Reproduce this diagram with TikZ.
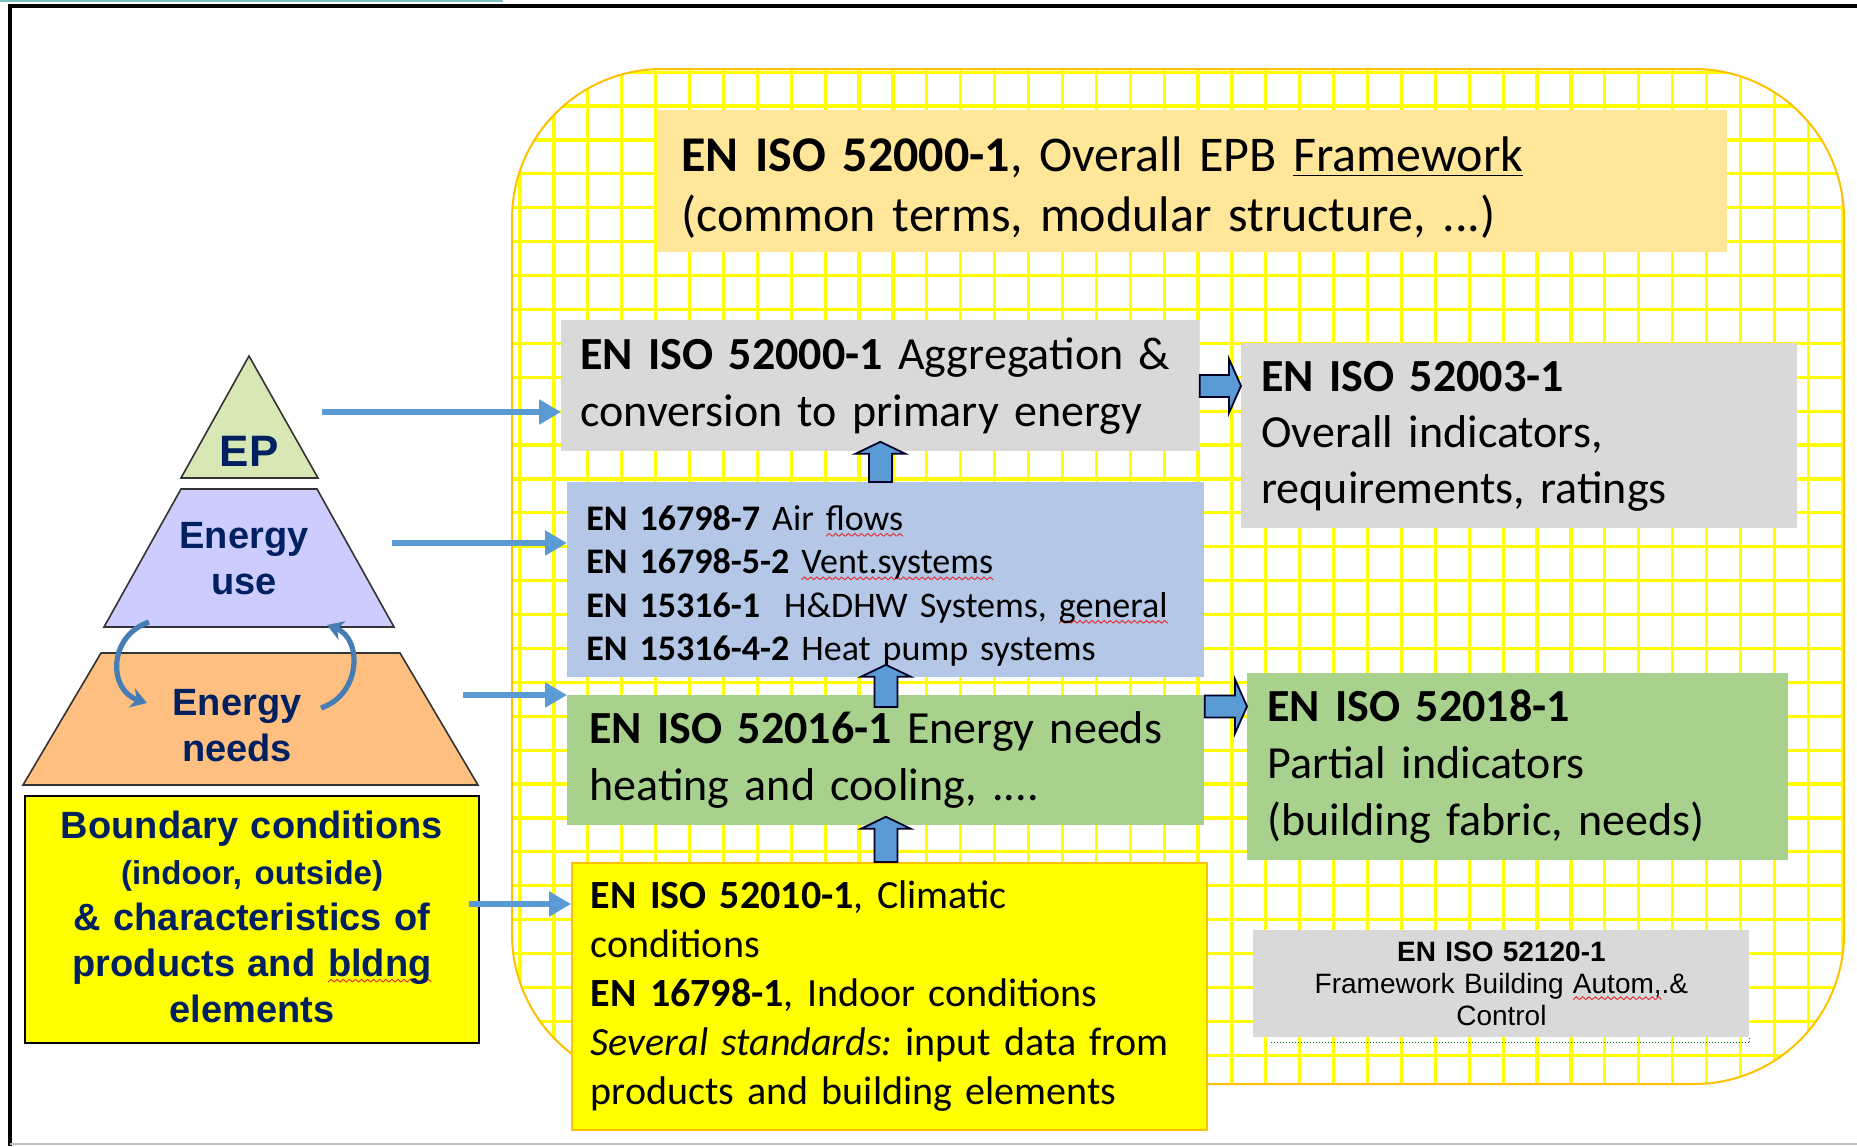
\documentclass[tikz,border=0pt]{standalone}
\usepackage{fontspec}
\setmainfont{Carlito}
\newfontfamily\arialfont{Liberation Sans}
\usetikzlibrary{calc, arrows.meta}
\frenchspacing

\definecolor{gridyellow}{RGB}{255,255,0}
\definecolor{gridedge}{RGB}{255,192,0}
\definecolor{fwbeige}{RGB}{255,230,153}
\definecolor{boxgray}{RGB}{217,217,217}
\definecolor{sysblue}{RGB}{180,199,231}
\definecolor{needgreen}{RGB}{169,209,142}
\definecolor{arrowblue}{RGB}{91,155,213}
\definecolor{curveblue}{RGB}{70,125,180}
\definecolor{navy}{RGB}{0,32,96}
\definecolor{epgreen}{RGB}{215,232,180}
\definecolor{uselav}{RGB}{204,204,255}
\definecolor{needorange}{RGB}{255,191,128}
\definecolor{spellred}{RGB}{230,40,40}

% red wavy spell-check underline
\newsavebox{\spellbox}
\newcommand{\spell}[1]{\sbox{\spellbox}{#1}\rlap{\lower3pt\hbox to \wd\spellbox{%
  \xleaders\hbox{\tikz[baseline]{%
    \path[use as bounding box] (0pt,0pt) rectangle (3pt,1.5pt);
    \draw[spellred, line width=0.45pt] (0pt,0pt) -- (1.5pt,1.4pt) -- (3pt,0pt);}}\hfill}}%
  \usebox{\spellbox}}

% block arrows between boxes
\newcommand{\blockup}[2]{%
  \draw[blockarr] let \p1=(#1), \p2=(#2) in
    (\x2-5.75pt,\y1) -- (\x2-5.75pt,\y2-6pt) -- (\x2-12.5pt,\y2-6pt) -- (\x2,\y2)
    -- (\x2+12.5pt,\y2-6pt) -- (\x2+5.75pt,\y2-6pt) -- (\x2+5.75pt,\y1) -- cycle;}
\newcommand{\blockright}[2]{%
  \draw[blockarr] let \p1=(#1), \p2=(#2) in
    (\x1,\y2-5.5pt) -- (\x2-6pt,\y2-5.5pt) -- (\x2-6pt,\y2-13.5pt) -- (\x2,\y2)
    -- (\x2-6pt,\y2+13.5pt) -- (\x2-6pt,\y2+5.5pt) -- (\x1,\y2+5.5pt) -- cycle;}

\begin{document}
\begin{tikzpicture}[x=0.5pt, y=-0.5pt,
  stdbox/.style={anchor=north west, align=left, inner ysep=0pt},
  bigtext/.style={font=\fontsize{23}{28.5}\selectfont},
  gridline/.style={gridyellow, line width=1.6pt},
  thinarr/.style={arrowblue, line width=3pt, -{Triangle[length=11pt,width=12pt]}},
  curvearr/.style={curveblue, line width=2.6pt, -{Stealth[length=8pt,width=10pt]}},
  blockarr/.style={fill=arrowblue, draw=black!85!blue, line width=0.9pt, line join=miter},
  pyr/.style={draw=black!80, line width=0.8pt},
  pyrlabel/.style={text=navy, align=center, inner sep=0pt,
    font=\arialfont\bfseries\fontsize{19}{23}\selectfont}]

  \useasboundingbox (0,0) rectangle (1857,1146);

  % page frame
  \draw[teal!50, line width=0.6pt] (0,1) -- (503,1);
  \draw[line width=2.4pt] (10,1146) -- (10,6) -- (1857,6);
  \draw[black!25, line width=1pt] (10,1144) -- (1857,1144);

  % gridded EPB area
  \begin{scope}
    \clip[rounded corners=75pt] (512,69) rectangle (1844,1084);
    \foreach \gx in {0,...,39}
      \draw[gridline] ({520+33.9*\gx},60) -- ({520+33.9*\gx},1090);
    \foreach \gy in {-1,...,29}
      \draw[gridline] (505,{106+33.9*\gy}) -- (1850,{106+33.9*\gy});
  \end{scope}
  \draw[gridedge, line width=1pt, rounded corners=75pt] (512,69) rectangle (1844,1084);

  % standards boxes
  \node[stdbox, fill=fwbeige, minimum width=535pt, minimum height=71pt,
        text width=511pt, inner xsep=12pt, font=\fontsize{25}{30}\selectfont] (fw) at (657,110)
    {\rule{0pt}{24pt}\textbf{EN ISO 52000-1}, Overall EPB \underline{Framework}\\(common terms, modular structure, ...)};
  \node[stdbox, bigtext, fill=boxgray, minimum width=319pt, minimum height=65.5pt,
        text width=300pt, inner xsep=9.5pt] (agg) at (561,320)
    {\textbf{EN ISO 52000-1} Aggregation \&\\conversion to primary energy};
  \node[stdbox, fill=boxgray, minimum width=278pt, minimum height=92.5pt,
        text width=258pt, inner xsep=10pt, font=\fontsize{23}{28}\selectfont] (ovr) at (1241,343)
    {\textbf{EN ISO 52003-1}\\Overall indicators,\\requirements, ratings};
  \node[stdbox, fill=sysblue, minimum width=318.5pt, minimum height=97.5pt,
        text width=299.5pt, inner xsep=9.5pt, font=\fontsize{18}{21.75}\selectfont] (sys) at (567,482)
    {\rule{0pt}{18.5pt}\textbf{EN 16798-7} Air \spell{flows}\\
     \textbf{EN 16798-5-2} \spell{Vent.systems}\\
     \textbf{EN 15316-1}\ \ H\&DHW Systems, \spell{general}\\
     \textbf{EN 15316-4-2} Heat pump systems};
  \node[stdbox, bigtext, fill=needgreen, minimum width=318.5pt, minimum height=65pt,
        text width=296.5pt, inner xsep=11pt] (need) at (567,695)
    {\textbf{EN ISO 52016-1} Energy needs\\heating and cooling, ....};
  \node[stdbox, bigtext, fill=needgreen, minimum width=270.5pt, minimum height=93.5pt,
        text width=250.5pt, inner xsep=10pt] (part) at (1247,673)
    {\textbf{EN ISO 52018-1}\\Partial indicators\\(building fabric, needs)};
  \node[stdbox, fill=gridyellow, draw=gridedge, line width=0.8pt, minimum width=317.5pt,
        minimum height=133.5pt, text width=298.5pt, inner xsep=9.5pt,
        font=\fontsize{20}{24.5}\selectfont] (clim) at (571,862)
    {\textbf{EN ISO 52010-1}, Climatic\\conditions\\\textbf{EN 16798-1}, Indoor conditions\\
     \textit{Several standards:} input data from\\products and building elements};
  \node[stdbox, align=center, fill=boxgray, minimum width=248pt, minimum height=53.5pt,
        text width=240pt, inner xsep=4pt, font=\arialfont\fontsize{14}{16}\selectfont] (bac) at (1253,930)
    {\textbf{EN ISO 52120-1}\\Framework Building \spell{Autom,}.\&\\Control};
  \draw[densely dotted, green!45!black, line width=0.5pt]
    ([xshift=9pt,yshift=-2.5pt]bac.south west) -- ([yshift=-2.5pt]bac.south east) -- (bac.south east);

  % pyramid
  \draw[pyr, fill=epgreen] (249,356) -- (318,478) -- (181,478) -- cycle;
  \draw[pyr, fill=uselav] (181,489) -- (317,489) -- (394,627) -- (104,627) -- cycle;
  \draw[pyr, fill=needorange] (101,653) -- (400,653) -- (478,785) -- (23,785) -- cycle;
  \node[pyrlabel, font=\arialfont\bfseries\fontsize{22}{26}\selectfont] (ep) at (249,451) {EP};
  \node[pyrlabel] (use) at (244,559) {Energy\\use};
  \node[pyrlabel] (needs) at (237,726) {Energy\\needs};
  \draw[curvearr] (149,622) .. controls (108,636) and (108,690) .. (147,703);
  \draw[curvearr] (321,708) .. controls (362,694) and (362,638) .. (327,625);

  \node[stdbox, align=center, fill=gridyellow, draw=black, line width=1pt,
        minimum width=227pt, minimum height=123.5pt, text width=220pt, inner xsep=3.5pt,
        text=navy, font=\arialfont\bfseries\fontsize{19}{23}\selectfont] (bnd) at (24,795)
    {Boundary conditions\\{\fontsize{16.5}{23}\selectfont(indoor, outside)}\\
     \& characteristics of\\products and \spell{bldng}\\elements\vspace*{3pt}};

  % inputs from the pyramid
  \coordinate (epout) at (322,412);
  \coordinate (useout) at (392,543);
  \coordinate (needout) at (463,695);
  \coordinate (bndout) at (469,904);
  \draw[thinarr] (epout) -- (epout -| agg.west);
  \draw[thinarr] (useout) -- (useout -| sys.west);
  \draw[thinarr] (needout) -- (needout -| need.west);
  \draw[thinarr] (bndout) -- (bndout -| clim.west);

  % flow between standards
  \blockup{sys.north}{[yshift=5pt]agg.south}
  \blockup{[yshift=-6pt]need.north}{[yshift=6.5pt]sys.south}
  \blockup{clim.north}{[yshift=4.5pt]need.south}
  \blockright{agg.east}{ovr.west |- agg.east}
  \coordinate (partin) at ([yshift=27pt]need.east);
  \blockright{partin}{part.west |- partin}
\end{tikzpicture}
\end{document}
